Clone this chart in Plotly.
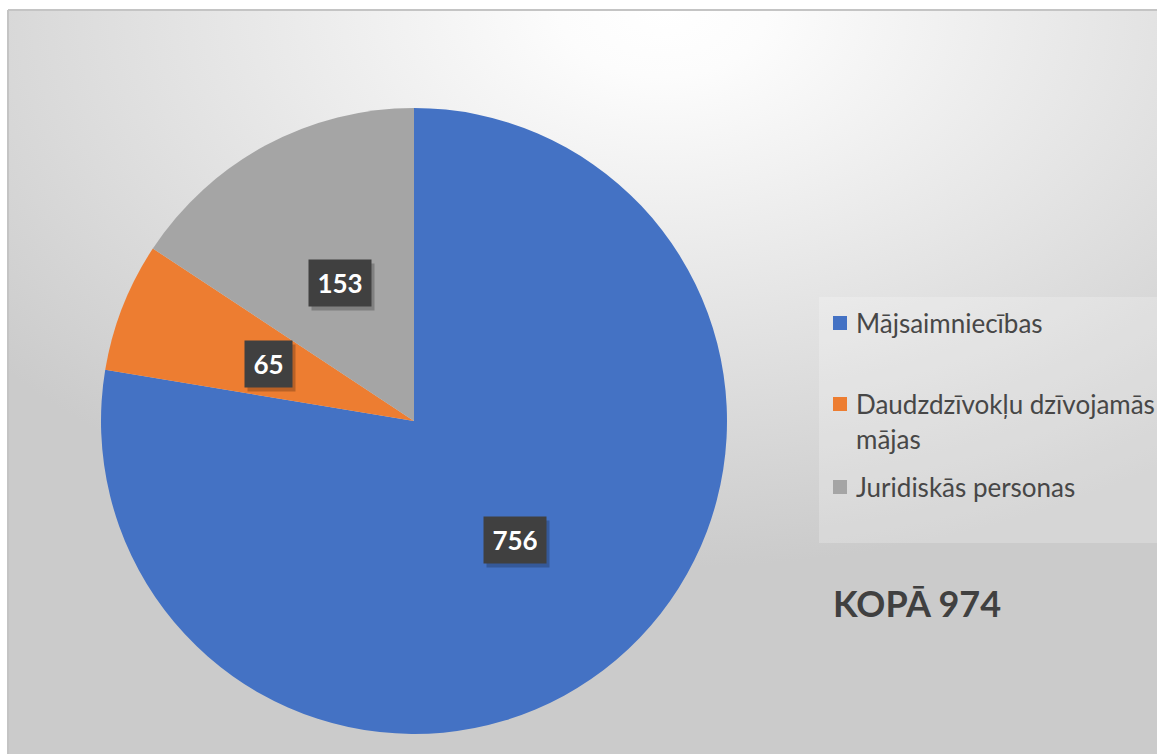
import math
import base64
import plotly.graph_objects as go

# ---- data ----
categories = ["Mājsaimniecības", "Daudzdzīvokļu dzīvojamās mājas", "Juridiskās personas"]
legend_lines = [["Mājsaimniecības"], ["Daudzdzīvokļu dzīvojamās", "mājas"], ["Juridiskās personas"]]
values = [756, 65, 153]
colors = ["#4472C4", "#ED7D31", "#A5A5A5"]
total_label = "KOPĀ 974"

W, H = 1157, 754

CX, CY, R = 414, 421, 313  # pie centre / radius in px
AX, AY = 8, 10  # chart-area top-left corner

# background gradient (chart area) as inline SVG
svg = '''<svg xmlns="http://www.w3.org/2000/svg" width="1149" height="744" viewBox="0 0 1149 744" preserveAspectRatio="none">
<defs><radialGradient id="g" cx="57%" cy="0%" r="75%" fx="57%" fy="0%">
<stop offset="0" stop-color="#ffffff"/><stop offset="0.12" stop-color="#fcfcfc"/>
<stop offset="1" stop-color="#cbcbcb"/></radialGradient></defs>
<rect x="0" y="0" width="1149" height="744" fill="url(#g)"/></svg>'''
src = "data:image/svg+xml;base64," + base64.b64encode(svg.encode()).decode()

fig = go.Figure()
fig.add_trace(go.Scatter(x=[0, W], y=[0, H], mode="markers", marker=dict(opacity=0),
                         hoverinfo="skip", showlegend=False))
fig.add_trace(go.Pie(
    labels=categories, values=values, sort=False, direction="clockwise", rotation=0,
    marker=dict(colors=colors, line=dict(width=0)), textinfo="none",
    hoverinfo="label+value", showlegend=False,
    domain=dict(x=[(CX - R) / W, (CX + R) / W], y=[(H - CY - R) / H, (H - CY + R) / H]),
))

annotations = []
shapes = []

# data labels
tot = sum(values)
cum = 0
for v in values:
    mid = (cum + v / 2) / tot * 2 * math.pi
    cum += v
    lx = CX + 0.5 * R * math.sin(mid)
    ly = CY - 0.5 * R * math.cos(mid)
    txt = str(v)
    w = 15 * len(txt) - 1
    common = dict(x=lx, y=ly, xref="x", yref="y", showarrow=False,
                  width=w, height=28, borderpad=9, xanchor="center", yanchor="middle")
    # soft shadow box
    annotations.append(dict(common, text="\u00a0", xshift=3, yshift=-4, bgcolor="rgba(0,0,0,0.22)",
                            font=dict(family="Lato", size=26, color="rgba(0,0,0,0)")))
    annotations.append(dict(common, text=f"<b>{txt}</b>", bgcolor="#404040",
                            font=dict(family="Lato", size=26, color="white")))

# legend box
shapes.append(dict(type="rect", xref="x", yref="y", x0=819, x1=W + 5, y0=297, y1=543,
                   fillcolor="rgba(255,255,255,0.22)", line=dict(width=0), layer="below"))
leg_y = [323, 404, 487]
for col, lines, yy in zip(colors, legend_lines, leg_y):
    shapes.append(dict(type="rect", xref="x", yref="y", x0=833, x1=847, y0=yy - 7, y1=yy + 7,
                       fillcolor=col, line=dict(width=0)))
    for i, ln in enumerate(lines):
        annotations.append(dict(x=854, y=yy + i * 35, xref="x", yref="y", text=ln, showarrow=False,
                                xanchor="left", yanchor="middle",
                                font=dict(family="Lato", size=26, color="#474747")))

annotations.append(dict(x=831, y=603, xref="x", yref="y", text=f"<b>{total_label}</b>", showarrow=False,
                        xanchor="left", yanchor="middle",
                        font=dict(family="Lato", size=36, color="#404040")))

# chart area edges
shapes.append(dict(type="line", xref="x", yref="y", x0=AX, x1=W, y0=AY, y1=AY,
                   line=dict(color="#c4c4c4", width=2)))
shapes.append(dict(type="line", xref="x", yref="y", x0=AX, x1=AX, y0=AY, y1=H,
                   line=dict(color="#c4c4c4", width=2)))

fig.update_layout(
    width=W, height=H, margin=dict(l=0, r=0, t=0, b=0),
    paper_bgcolor="white", plot_bgcolor="rgba(0,0,0,0)",
    xaxis=dict(range=[0, W], visible=False, domain=[0, 1], fixedrange=True),
    yaxis=dict(range=[H, 0], visible=False, domain=[0, 1], fixedrange=True),
    images=[dict(source=src, xref="paper", yref="paper", x=AX / W, y=1 - AY / H,
                 sizex=(W - AX) / W, sizey=(H - AY) / H, sizing="stretch",
                 xanchor="left", yanchor="top", layer="below")],
    shapes=shapes, annotations=annotations, showlegend=False,
)

fig.write_html("out.html", config={"displayModeBar": False},
               post_script="document.body.style.margin='0';")
